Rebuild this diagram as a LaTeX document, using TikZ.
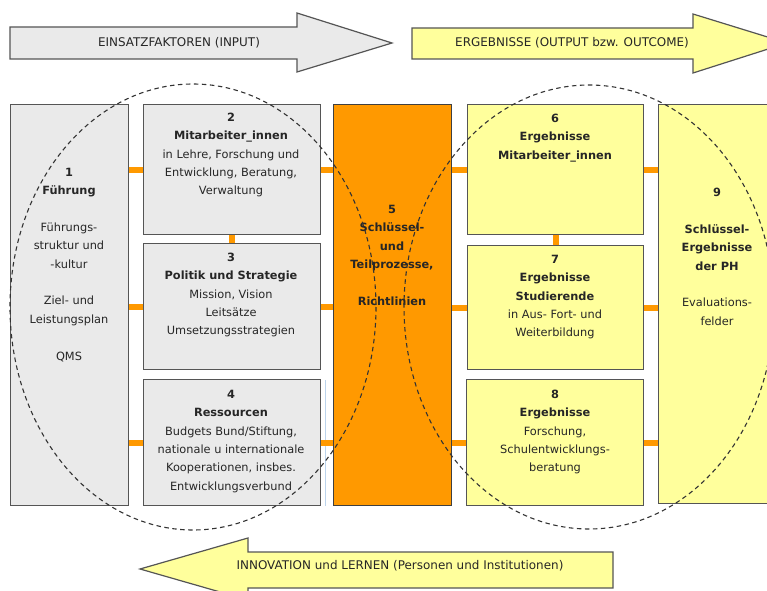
\documentclass[tikz,border=0pt]{standalone}
\usepackage{fontspec}
\setmainfont{DejaVu Sans}
\definecolor{boxgrey}{HTML}{EAEAEA}
\definecolor{boxyellow}{HTML}{FFFF9C}
\definecolor{boxorange}{HTML}{FF9900}
\definecolor{edgegrey}{HTML}{555555}
\definecolor{dashgrey}{HTML}{333333}
\definecolor{faintblue}{HTML}{BCD4EC}
\tikzset{
  box/.style={draw=edgegrey, line width=1.3bp, rectangle, inner sep=0pt, anchor=north west},
  greybox/.style={box, fill=boxgrey},
  yellowbox/.style={box, fill=boxyellow},
  orangebox/.style={box, fill=boxorange, draw=black!75},
  conn/.style={draw=boxorange, line width=6bp},
  txt/.style={align=center, inner sep=0pt, anchor=north, font=\fontsize{11.4}{18.4}\selectfont, text=black!85},
  arrowshape/.style={draw=edgegrey, line width=1.2bp, line join=miter},
  arrowtxt/.style={inner sep=0pt, font=\fontsize{12}{14}\selectfont, text=black!85},
  ell/.style={draw=dashgrey, line width=1.1bp, dash pattern=on 4.5bp off 3.5bp}
}
\begin{document}
\begin{tikzpicture}[x=1bp,y=-1bp]
\useasboundingbox (0,0) rectangle (767,591);
\clip (0,0) rectangle (767,591);
% top arrows
\draw[arrowshape, fill=boxgrey] (10,27) -- (297,27) -- (297,13) -- (392,43) -- (297,72) -- (297,59) -- (10,59) -- cycle;
\node[arrowtxt] (ain) at (179,43) {EINSATZFAKTOREN (INPUT)};
\draw[arrowshape, fill=boxyellow] (412,28) -- (693,28) -- (693,14) -- (787,43) -- (693,73) -- (693,59) -- (412,59) -- cycle;
\node[arrowtxt] (aout) at (572,43) {ERGEBNISSE (OUTPUT bzw. OUTCOME)};
% bottom arrow
\draw[arrowshape, fill=boxyellow] (613,552) -- (248,552) -- (248,538) -- (140,569) -- (248,600) -- (248,588) -- (613,588) -- cycle;
\node[arrowtxt] (ainn) at (400,566) {INNOVATION und LERNEN (Personen und Institutionen)};
% boxes
\node[greybox, minimum width=118bp, minimum height=401bp] (b1) at (10,104) {};
\node[greybox, minimum width=177bp, minimum height=130bp] (b2) at (143,104) {};
\node[greybox, minimum width=177bp, minimum height=126bp] (b3) at (143,243) {};
\node[greybox, minimum width=177bp, minimum height=126bp] (b4) at (143,379) {};
\node[orangebox, minimum width=118bp, minimum height=401bp] (b5) at (333,104) {};
\node[yellowbox, minimum width=176bp, minimum height=130bp] (b6) at (467,104) {};
\node[yellowbox, minimum width=176bp, minimum height=124bp] (b7) at (467,245) {};
\node[yellowbox, minimum width=177bp, minimum height=126bp] (b8) at (466,379) {};
\node[yellowbox, minimum width=130bp, minimum height=399bp] (b9) at (658,104) {};
\coordinate (bl1) at (325,380);
\coordinate (bl2) at (325,506);
\draw[faintblue, line width=0.8bp] (bl1) -- (bl2);
% connectors
\draw[conn] (b1.east |- b2.west) -- (b2.west);
\draw[conn] (b1.east |- b3.west) -- (b3.west);
\draw[conn] (b1.east |- b4.west) -- (b4.west);
\draw[conn] (b2.east) -- (b5.west |- b2.east);
\draw[conn] (b3.east) -- (b5.west |- b3.east);
\draw[conn] (b4.east) -- (b5.west |- b4.east);
\draw[conn] (b2.south) -- (b3.north);
\draw[conn] (b5.east |- b6.west) -- (b6.west);
\draw[conn] (b5.east |- b7.west) -- (b7.west);
\draw[conn] (b5.east |- b8.west) -- (b8.west);
\draw[conn] (b6.south) -- (b7.north);
\draw[conn] (b6.east) -- (b9.west |- b6.east);
\draw[conn] (b7.east) -- (b9.west |- b7.east);
\draw[conn] (b8.east) -- (b9.west |- b8.east);
% texts
\node[txt] (t1) at (69,168) {\textbf{1}\\\textbf{Führung}\\[18.4bp]Führungs-\\struktur und\\-kultur\\[18.4bp]Ziel- und\\Leistungsplan\\[18.4bp]QMS};
\node[txt] (t2) at (231,113) {\textbf{2}\\\textbf{Mitarbeiter\_innen}\\in Lehre, Forschung und\\Entwicklung, Beratung,\\Verwaltung};
\node[txt] (t3) at (231,253) {\textbf{3}\\\textbf{Politik und Strategie}\\Mission, Vision\\Leitsätze\\Umsetzungsstrategien};
\node[txt] (t4) at (231,390) {\textbf{4}\\\textbf{Ressourcen}\\Budgets Bund/Stiftung,\\nationale u internationale\\Kooperationen, insbes.\\Entwicklungsverbund};
\node[txt] (t5) at (392,205) {\textbf{5}\\\textbf{Schlüssel-}\\\textbf{und}\\\textbf{Teilprozesse,}\\[18.4bp]\textbf{Richtlinien}};
\node[txt] (t6) at (555,114) {\textbf{6}\\\textbf{Ergebnisse}\\\textbf{Mitarbeiter\_innen}};
\node[txt] (t7) at (555,255) {\textbf{7}\\\textbf{Ergebnisse}\\\textbf{Studierende}\\in Aus- Fort- und\\Weiterbildung};
\node[txt] (t8) at (555,390) {\textbf{8}\\\textbf{Ergebnisse}\\Forschung,\\Schulentwicklungs-\\beratung};
\node[txt] (t9) at (717,188) {\textbf{9}\\[18.4bp]\textbf{Schlüssel-}\\\textbf{Ergebnisse}\\\textbf{der PH}\\[18.4bp]Evaluations-\\felder};
% dashed ellipses
\draw[ell] (193,307) ellipse [x radius=183, y radius=223];
\draw[ell] (589,307) ellipse [x radius=185, y radius=222];
\end{tikzpicture}
\end{document}
